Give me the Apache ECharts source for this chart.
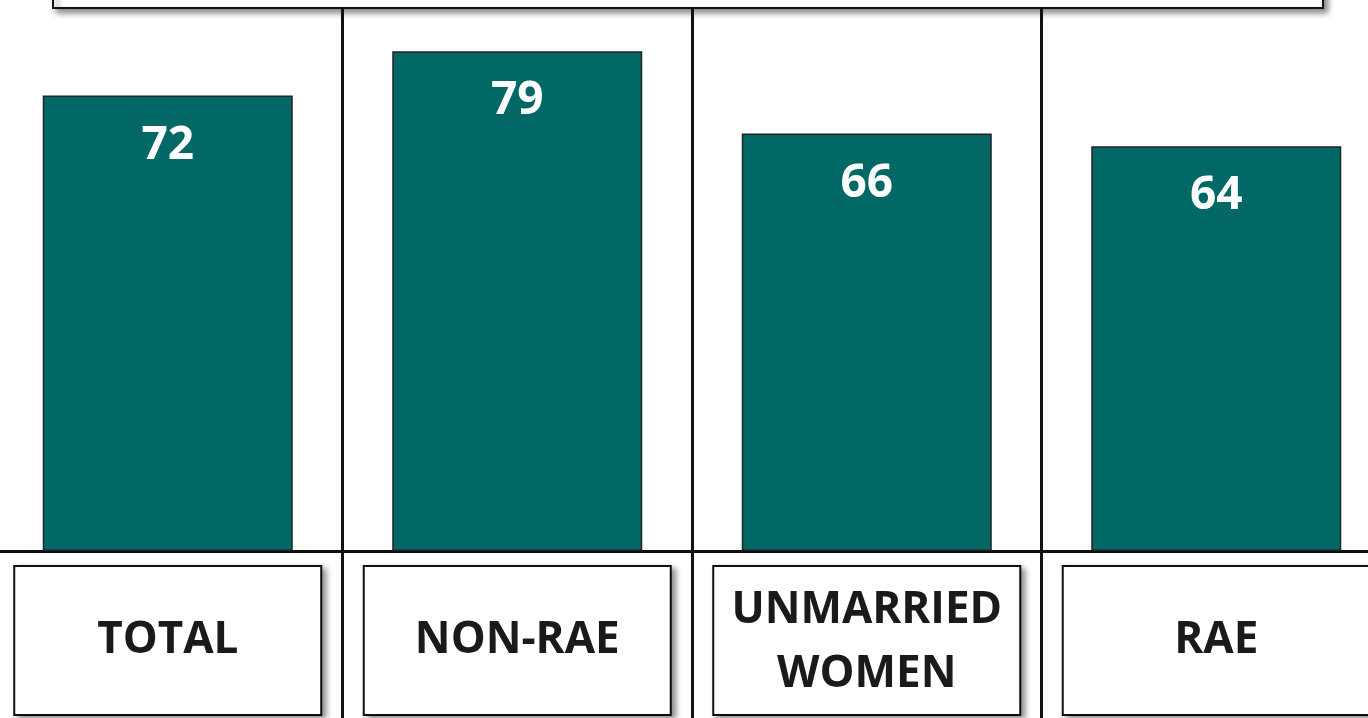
<!DOCTYPE html>
<html lang="en">
<head>
    <meta charset="UTF-8">
    <title>Bar chart</title>
    <style>
        html, body { margin: 0; padding: 0; background: #fff; overflow: hidden; }
        /* chart is a bit wider than the window so the outer category edges fall off-screen */
        #main { width: 1398px; height: 718px; margin-left: -7px; }
    </style>
</head>
<body>
<div id="main"></div>
<script src="https://cdn.jsdelivr.net/npm/echarts@6/dist/echarts.min.js"></script>
<script>
    // data
    const categories = ['TOTAL', 'NON-RAE', 'UNMARRIED\nWOMEN', 'RAE'];
    const values = [72, 79, 66, 64];

    const barColor = '#016865';
    const font = '"Open Sans", "Noto Sans", sans-serif';

    let myChart = echarts.init(document.getElementById('main'));

    const option = {
        animation: false,
        backgroundColor: '#fff',
        grid: [
            {left: 0, right: 0, top: 45, bottom: 167},
            // second grid only used to draw the full-height dividers
            {left: 0, right: 0, top: 8, bottom: 0}
        ],
        xAxis: [
            {
                type: 'category',
                gridIndex: 0,
                data: categories,
                axisTick: {show: false},
                axisLine: {lineStyle: {color: '#111', width: 3}},
                axisLabel: {
                    interval: 0,
                    margin: 16,
                    width: 305,
                    height: 147,
                    padding: 0,
                    backgroundColor: '#fff',
                    borderColor: '#111',
                    borderWidth: 2,
                    shadowColor: 'rgba(0,0,0,0.4)',
                    shadowBlur: 6,
                    shadowOffsetX: 4,
                    shadowOffsetY: 3,
                    formatter: function (v) {
                        let parts = v.split('\n');
                        if (parts.length === 1) return '{one|' + v + '}';
                        return '{gap| }\n' + parts.map(p => '{two|' + p + '}').join('\n');
                    },
                    rich: {
                        one: {fontSize: 44, fontWeight: 'bold', fontFamily: font, color: '#1a1a1a', lineHeight: 147, align: 'center'},
                        two: {fontSize: 44, fontWeight: 'bold', fontFamily: font, color: '#1a1a1a', lineHeight: 64, align: 'center'},
                        gap: {fontSize: 8, lineHeight: 11, align: 'center'}
                    }
                },
                splitLine: {show: false}
            },
            {
                type: 'category',
                gridIndex: 1,
                data: categories,
                axisLine: {show: false},
                axisTick: {show: false},
                axisLabel: {show: false},
                splitLine: {show: true, lineStyle: {color: '#111', width: 3}}
            }
        ],
        yAxis: [
            {type: 'value', gridIndex: 0, min: 0, max: 80, show: false},
            {type: 'value', gridIndex: 1, min: 0, max: 1, show: false}
        ],
        graphic: [
            {
                type: 'rect',
                shape: {x: 60, y: -30, width: 1270, height: 38},
                style: {
                    fill: '#fff', stroke: '#111', lineWidth: 2,
                    shadowColor: 'rgba(0,0,0,0.45)', shadowBlur: 6, shadowOffsetX: 4, shadowOffsetY: 4
                }
            }
        ],
        series: [
            {
                type: 'bar',
                xAxisIndex: 0,
                yAxisIndex: 0,
                data: values,
                barWidth: 250,
                itemStyle: {color: barColor, borderColor: '#222', borderWidth: 1.5},
                label: {
                    show: true,
                    position: 'insideTop',
                    distance: 27,
                    color: '#fff',
                    fontSize: 46,
                    fontWeight: 'bold',
                    fontFamily: font
                }
            }
        ]
    };

    myChart.setOption(option);
</script>
</body>
</html>
